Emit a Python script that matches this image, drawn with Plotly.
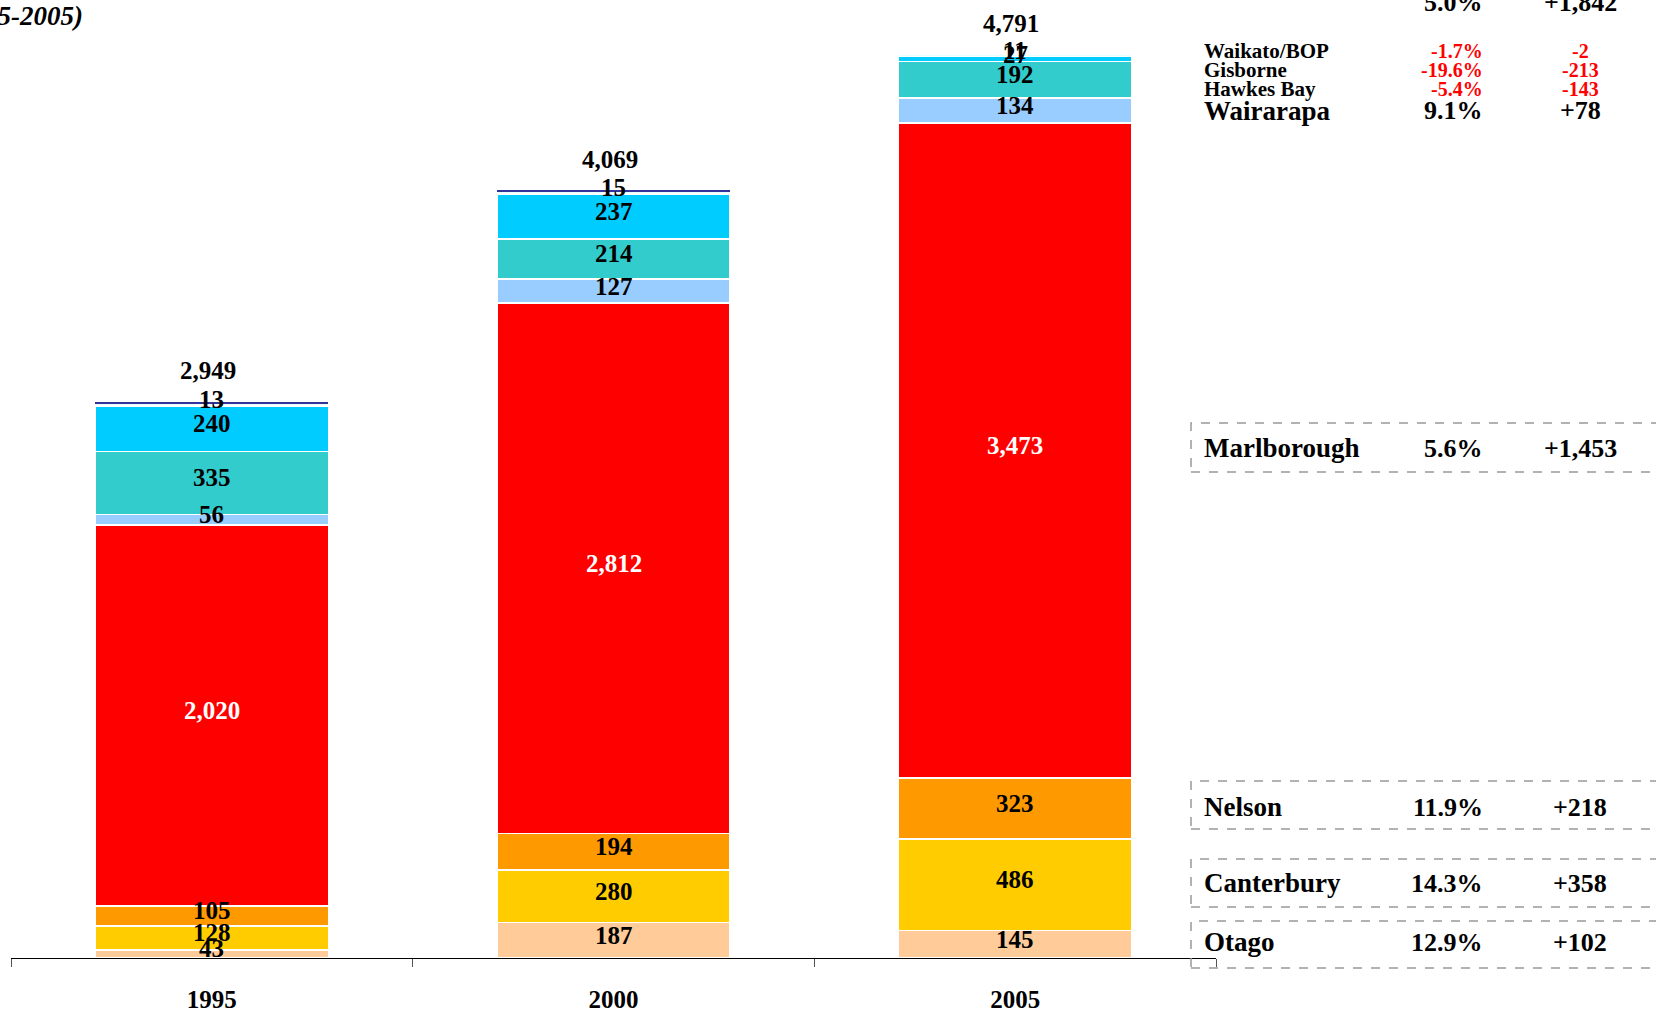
import plotly.graph_objects as go

# Wine-region volumes, stacked bottom to top
years = ["1995", "2000", "2005"]
otago = [43, 187, 145]
canterbury = [128, 280, 486]
nelson = [105, 194, 323]
marlborough = [2020, 2812, 3473]
wairarapa = [56, 127, 134]
hawkes_bay = [335, 214, 192]
gisborne = [240, 237, 27]
waikato_bop = [13, 15, 11]
other = [9, 3, 0]

# name, values, fill, label colour (None = unlabelled), border width
series = [
    ("Otago", otago, "#FFCC99", "black", 1.5),
    ("Canterbury", canterbury, "#FFCC00", "black", 1.5),
    ("Nelson", nelson, "#FF9900", "black", 1.5),
    ("Marlborough", marlborough, "#FF0000", "white", 1.5),
    ("Wairarapa", wairarapa, "#99CCFF", "black", 1.5),
    ("Hawkes Bay", hawkes_bay, "#33CCCC", "black", 1.5),
    ("Gisborne", gisborne, "#00CCFF", "black", 1.5),
    ("Waikato/BOP", waikato_bop, "#E6FFFF", "black", 1.5),
    ("Other", other, "#333399", None, 0),
]

FONT = "Liberation Serif"
W, H = 1656, 1012
ML, MR, MT, MB = 11, 440, 0, 54
PW, PH = W - ML - MR, H - MT - MB


def px_x(x):
    return (x - ML) / PW


def px_y(y):
    return (H - MB - y) / PH


fig = go.Figure()
for name, vals, color, _, lw in series:
    fig.add_trace(go.Bar(
        x=years, y=vals, name=name, width=0.58,
        marker=dict(color=color, line=dict(color="white", width=lw)),
        showlegend=False, hoverinfo="x+y+name",
    ))

annotations = []

# Segment value labels at the middle of each stacked piece
base = [0] * len(years)
for name, vals, color, tcolor, _ in series:
    for i, v in enumerate(vals):
        if tcolor is not None and v > 0:
            annotations.append(dict(
                x=i, y=base[i] + v / 2, xref="x", yref="y",
                text=f"{v:,}", showarrow=False, yshift=5,
                font=dict(family=FONT, size=25, color=tcolor, weight="bold"),
            ))
        base[i] += v

totals = base[:]
for i, t in enumerate(totals):
    annotations.append(dict(
        x=i, y=t, xref="x", yref="y", text=f"{t:,}",
        showarrow=False, yshift=31, xshift=-4,
        font=dict(family=FONT, size=25, color="black", weight="bold"),
    ))


def cagr(a, b):
    return ((b / a) ** (1 / 10) - 1) * 100


def row(label, a, b, y, size_name, size_num, num_color, box=None):
    if label:
        annotations.append(dict(
            x=px_x(1202), y=px_y(y), xref="paper", yref="paper",
            xanchor="left", yanchor="middle", text=label, showarrow=False,
            font=dict(family=FONT, size=size_name, color="black", weight="bold"),
        ))
    annotations.append(dict(
        x=px_x(1485), y=px_y(y), xref="paper", yref="paper",
        xanchor="right", yanchor="middle", text=f"{cagr(a, b):.1f}%",
        showarrow=False,
        font=dict(family=FONT, size=size_num, color=num_color, weight="bold"),
    ))
    annotations.append(dict(
        x=px_x(1580), y=px_y(y), xref="paper", yref="paper",
        xanchor="center", yanchor="middle", text=f"{b - a:+,}",
        showarrow=False,
        font=dict(family=FONT, size=size_num, color=num_color, weight="bold"),
    ))
    if box:
        y0, y1 = box
        fig.add_shape(
            type="rect", xref="paper", yref="paper",
            x0=px_x(1191), x1=px_x(1662), y0=px_y(y1), y1=px_y(y0),
            line=dict(color="#999999", width=1.5, dash="dash"),
            fillcolor="rgba(0,0,0,0)",
        )


red = "#FF0000"
row(None, totals[0], totals[2], 3, 26, 26, "black")
row("Waikato/BOP", waikato_bop[0], waikato_bop[2], 51, 21, 20, red)
row("Gisborne", gisborne[0], gisborne[2], 70, 21, 20, red)
row("Hawkes Bay", hawkes_bay[0], hawkes_bay[2], 89, 21, 20, red)
row("Wairarapa", wairarapa[0], wairarapa[2], 111, 27, 26, "black")
row("Marlborough", marlborough[0], marlborough[2], 448, 27, 26, "black", (423, 472))
row("Nelson", nelson[0], nelson[2], 807, 27, 26, "black", (781, 829))
row("Canterbury", canterbury[0], canterbury[2], 883, 27, 26, "black", (859, 907))
row("Otago", otago[0], otago[2], 942, 27, 26, "black", (921, 968))

# Title (runs off the left edge of the page)
annotations.append(dict(
    x=px_x(85), y=px_y(16), xref="paper", yref="paper",
    xanchor="right", yanchor="middle", text="(1995-2005)", showarrow=False,
    font=dict(family=FONT, size=27, color="black", weight="bold", style="italic"),
))

fig.update_layout(
    barmode="stack",
    width=W, height=H,
    margin=dict(l=ML, r=MR, t=MT, b=MB, pad=0, autoexpand=False),
    paper_bgcolor="white", plot_bgcolor="white",
    annotations=annotations,
    xaxis=dict(
        type="category", categoryorder="array", categoryarray=years,
        range=[-0.5, 2.5], tickson="boundaries", ticks="outside",
        ticklen=8, tickcolor="#555555", tickwidth=1,
        showline=True, linecolor="black", linewidth=1,
        showgrid=False, zeroline=False, ticklabelstandoff=19,
        automargin=False,
        tickfont=dict(family=FONT, size=25, color="black", weight="bold"),
    ),
    yaxis=dict(range=[0, 5080], visible=False, showgrid=False,
               zeroline=False, automargin=False),
)

fig.write_html("out.html")
